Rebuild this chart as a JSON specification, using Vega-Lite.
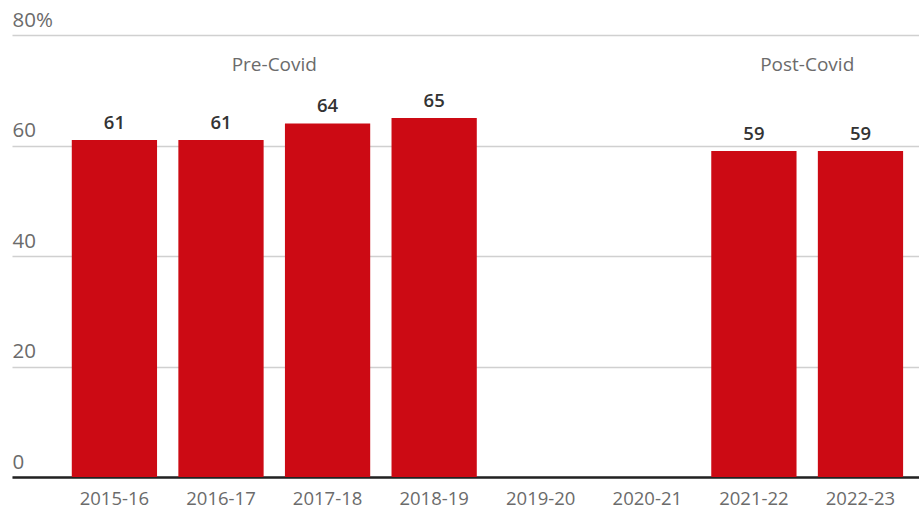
{
  "$schema": "https://vega.github.io/schema/vega-lite/v6.json",
  "width": 907,
  "height": 442,
  "autosize": "none",
  "padding": {"left": 12, "top": 35, "right": 0, "bottom": 35},
  "background": "white",
  "config": {
    "view": {"stroke": null},
    "font": "Open Sans",
    "axis": {"labelFont": "Open Sans", "labelColor": "#6b6b6b"}
  },
  "datasets": {
    "bars": [
      {"year": "2015-16", "value": 61},
      {"year": "2016-17", "value": 61},
      {"year": "2017-18", "value": 64},
      {"year": "2018-19", "value": 65},
      {"year": "2019-20", "value": null},
      {"year": "2020-21", "value": null},
      {"year": "2021-22", "value": 59},
      {"year": "2022-23", "value": 59}
    ],
    "notes": [
      {"year": "2016-17", "label": "Pre-Covid"},
      {"year": "2021-22", "label": "Post-Covid"}
    ]
  },
  "encoding": {
    "x": {
      "field": "year",
      "type": "nominal",
      "sort": null,
      "scale": {
        "domain": ["2015-16", "2016-17", "2017-18", "2018-19", "2019-20", "2020-21", "2021-22", "2022-23"],
        "paddingInner": 0.2,
        "paddingOuter": 0.355,
        "align": 0.79
      },
      "axis": {
        "title": null,
        "labelAngle": 0,
        "labelFontSize": 18.5,
        "labelPadding": 12,
        "ticks": false,
        "grid": false,
        "domain": true,
        "domainColor": "#222222",
        "domainWidth": 2.5
      }
    }
  },
  "layer": [
    {
      "data": {"name": "bars"},
      "mark": {"type": "bar", "color": "#cc0a14"},
      "encoding": {
        "y": {
          "field": "value",
          "type": "quantitative",
          "scale": {"domain": [0, 80], "nice": false},
          "axis": {
            "title": null,
            "values": [0, 20, 40, 60, 80],
            "labelExpr": "datum.value == 80 ? '80%' : datum.label",
            "labelAlign": "left",
            "labelBaseline": "alphabetic",
            "labelPadding": 0,
            "labelOffset": -9,
            "labelFontSize": 20.5,
            "ticks": false,
            "tickSize": 0,
            "domain": false,
            "grid": true,
            "gridColor": "#d0d0d0",
            "gridWidth": 1.5
          }
        }
      }
    },
    {
      "data": {"name": "bars"},
      "transform": [{"filter": "datum.value != null"}],
      "mark": {"type": "text", "dy": -11, "baseline": "alphabetic", "fontSize": 18.5, "fontWeight": 600, "color": "#333333"},
      "encoding": {
        "y": {"field": "value", "type": "quantitative"},
        "text": {"field": "value", "type": "quantitative"}
      }
    },
    {
      "data": {"name": "notes"},
      "mark": {"type": "text", "dx": 53.3, "baseline": "alphabetic", "fontSize": 19, "fontWeight": 500, "color": "#6b6b6b"},
      "encoding": {
        "y": {"datum": 73.5, "type": "quantitative"},
        "text": {"field": "label"}
      }
    }
  ]
}
